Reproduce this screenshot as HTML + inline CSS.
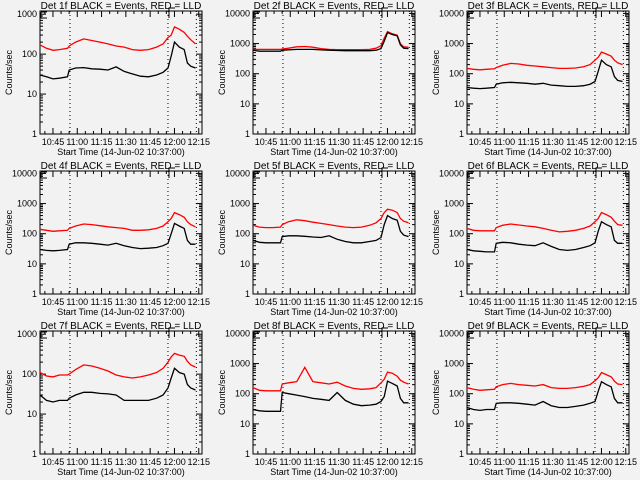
<!DOCTYPE html>
<html><head><meta charset="utf-8">
<style>
html,body{margin:0;padding:0;background:#f2f2f2;}
svg{display:block;font-family:"Liberation Sans",sans-serif;}
</style></head>
<body>
<svg id="chart" width="640" height="480" viewBox="0 0 640 480" xmlns="http://www.w3.org/2000/svg">
<rect x="0" y="0" width="640" height="480" fill="#f2f2f2"/>
</svg>
<script>
// Time samples in minutes since 10:37:00
const times = [0,4,8,12,17,18,22,27,32,37,42,47,52,57,62,67,72,76,79,81,83,86,89,91,93,96];
const detectorNames = ["1f","2f","3f","4f","5f","6f","7f","8f","9f"];
const tickLabels = ["10:45","11:00","11:15","11:30","11:45","12:00","12:15"];
const tickMinutes = [8,23,38,53,68,83,98];
const markerMinutes = [18.5,79,96.5];
const yMaxExp = [3,4,4,4,4,4,3,4,4];
const black1 = [30,27,24,25,27,40,45,46,43,42,40,48,37,32,28,27,30,35,45,90,200,150,130,60,50,45];
const red1   = [170,140,125,130,140,160,200,240,220,200,180,160,150,130,125,130,150,180,260,300,480,420,350,280,230,180];
const black2 = [600,560,560,560,560,600,620,640,640,640,620,600,590,580,580,580,580,600,680,1200,2300,2000,1800,900,700,680];
const red2   = [650,640,640,640,640,660,700,780,800,760,680,640,630,630,630,630,640,700,850,1500,2500,2100,1900,1000,780,750];
const black3 = [35,33,32,33,35,45,50,52,50,48,45,48,42,40,38,38,40,45,55,120,280,200,170,80,60,55];
const red3   = [150,140,135,140,145,160,190,220,210,190,180,170,160,150,150,155,170,200,280,350,520,450,380,280,230,200];
const black4 = [30,28,27,28,30,45,50,50,48,45,42,48,40,35,32,33,35,40,48,100,220,180,150,60,45,45];
const red4   = [140,130,120,125,130,150,180,210,200,185,170,160,150,130,130,135,150,180,250,320,500,430,350,250,200,170];
const black5 = [60,52,50,50,50,80,85,85,82,78,75,85,65,55,50,50,55,60,75,200,400,320,280,120,90,80];
const red5   = [190,165,160,160,165,200,250,290,270,240,220,200,180,165,160,165,190,230,320,500,650,600,500,320,260,230];
const black6 = [30,27,26,25,25,48,52,50,45,42,40,50,38,30,28,30,35,40,50,120,250,200,170,60,48,48];
const red6   = [150,130,125,125,125,160,190,210,195,180,170,150,130,115,120,130,150,180,250,320,500,430,350,260,200,190];
const black7 = [30,22,20,22,22,25,30,35,35,33,32,30,22,22,22,22,25,30,45,80,140,110,100,55,45,40];
const red7   = [110,90,85,95,95,100,130,170,160,140,120,95,85,80,85,95,110,140,200,270,330,300,280,210,170,150];
const black8 = [30,27,26,26,26,110,100,90,80,70,65,60,110,60,45,40,42,45,55,80,260,220,180,70,50,50];
const red8   = [160,130,125,125,125,210,230,250,750,250,230,210,240,180,150,140,145,160,230,300,520,480,380,280,240,210];
const black9 = [35,30,28,30,30,48,50,50,48,45,42,55,40,35,35,38,42,48,55,120,250,200,170,70,50,50];
const red9   = [160,140,130,135,140,170,200,220,200,190,180,200,160,150,150,160,175,200,270,340,500,430,360,260,210,200];
const blackSeries = [black1,black2,black3,black4,black5,black6,black7,black8,black9];
const redSeries = [red1,red2,red3,red4,red5,red6,red7,red8,red9];

const NS = "http://www.w3.org/2000/svg";
const svg = document.getElementById("chart");
function mk(tag, attrs, parent){
  const e = document.createElementNS(NS, tag);
  for (const k in attrs) e.setAttribute(k, attrs[k]);
  (parent||svg).appendChild(e);
  return e;
}
const colX = [40,253,467], rowY = [11,171,331];
const W = 162, H = 123, XMAX = 100;

for (let p = 0; p < 9; p++) {
  const bx = colX[p%3], by = rowY[Math.floor(p/3)];
  const top = yMaxExp[p] + 0.08;
  const g = mk("g", {});
  
  
  const xs = m => bx + m / XMAX * W;
  const ys = v => by + H - Math.log10(v) / top * H;

  // title
  const t = mk("text", {x: bx + W/2, y: by - 2, "text-anchor":"middle", "font-size":"10", fill:"#000"}, g);
  t.textContent = "Det " + detectorNames[p] + " BLACK = Events, RED = LLD";
  
  

  // box
  const box = mk("rect", {x: bx, y: by, width: W, height: H, fill: "none", stroke: "#000", "stroke-width": 1}, g);
  
  

  // y ticks
  for (let e = 0; e <= yMaxExp[p]; e++) {
    const y = ys(Math.pow(10, e));
    mk("line", {x1: bx, x2: bx+6, y1: y, y2: y, stroke:"#000"}, g);
    mk("line", {x1: bx+W, x2: bx+W-6, y1: y, y2: y, stroke:"#000"}, g);
    const lb = mk("text", {x: bx-3, y: y+3, "text-anchor":"end", "font-size":"9", fill:"#000"}, g);
    lb.textContent = String(Math.pow(10, e));
    
    
    if (e < yMaxExp[p]) {
      for (let k = 2; k <= 9; k++) {
        const yy = ys(k * Math.pow(10, e));
        mk("line", {x1: bx, x2: bx+3, y1: yy, y2: yy, stroke:"#000"}, g);
        mk("line", {x1: bx+W, x2: bx+W-3, y1: yy, y2: yy, stroke:"#000"}, g);
      }
    }
  }
  // x ticks
  for (let i = 0; i < tickMinutes.length; i++) {
    const x = xs(tickMinutes[i]);
    mk("line", {x1: x, x2: x, y1: by+H, y2: by+H-6, stroke:"#000"}, g);
    mk("line", {x1: x, x2: x, y1: by, y2: by+6, stroke:"#000"}, g);
    const lb = mk("text", {x: x, y: by+H+11, "text-anchor":"middle", "font-size":"9", fill:"#000"}, g);
    lb.textContent = tickLabels[i];
    
    
  }
  for (let m = 3; m < XMAX; m += 5) {
    if (tickMinutes.includes(m)) continue;
    const x = xs(m);
    mk("line", {x1: x, x2: x, y1: by+H, y2: by+H-3, stroke:"#000"}, g);
    mk("line", {x1: x, x2: x, y1: by, y2: by+3, stroke:"#000"}, g);
  }
  // marker lines
  for (const mm of markerMinutes) {
    const x = xs(mm);
    const l = mk("line", {x1: x, x2: x, y1: by, y2: by+H, stroke:"#000", "stroke-dasharray":"1,3"}, g);
    
    
  }
  // bracket glyphs
  mk("path", {d: `M${bx+1},${by+1} h6 M${bx+1},${by+1} v6 h6`, fill:"none", stroke:"#000"}, g);
  const bx2 = xs(markerMinutes[1]) + 1;
  mk("path", {d: `M${bx2},${by+7} v-10 h6`, fill:"none", stroke:"#000"}, g);

  // x title
  const xt = mk("text", {x: bx + W/2, y: by+H+21, "text-anchor":"middle", "font-size":"9", fill:"#000"}, g);
  xt.textContent = "Start Time (14-Jun-02 10:37:00)";
  
  
  // y title
  const yx = bx - 28, yy = by + H/2;
  const yt = mk("text", {x: yx, y: yy, "text-anchor":"middle", "font-size":"9", fill:"#000", transform:`rotate(-90 ${yx} ${yy})`}, g);
  yt.textContent = "Counts/sec";
  
  

  // series (step style)
  const drawSeries = (arr, color, name) => {
    let d = "";
    for (let i = 0; i < times.length; i++) {
      const x = xs(times[i]), y = ys(arr[i]);
      d += (i === 0 ? "M" : "L") + x.toFixed(1) + "," + y.toFixed(1);
    }
    const path = mk("path", {d: d, fill:"none", stroke: color, "stroke-width": 1.3}, g);
    
    
  };
  drawSeries(redSeries[p], "#ff0000", 'lld-series');
  drawSeries(blackSeries[p], "#000000", 'events-series');
}
</script>
</body></html>
